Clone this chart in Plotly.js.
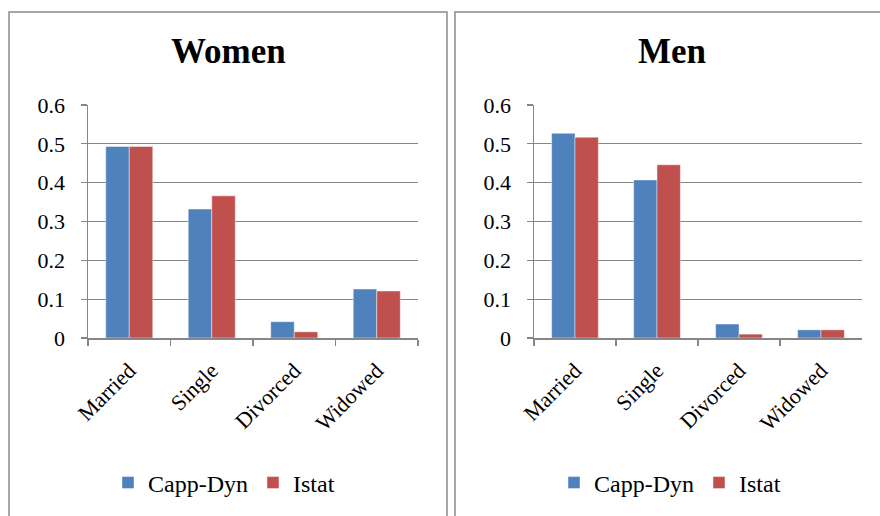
<!DOCTYPE html>
<html>
<head>
<meta charset="utf-8">
<script src="https://cdn.plot.ly/plotly-3.0.1.min.js"></script>
<style>html,body{margin:0;padding:0;background:#fff;}#chart{width:880px;height:516px;}</style>
</head>
<body>
<div id="chart"></div>
<script>
const categories = ['Married', 'Single', 'Divorced', 'Widowed'];
const seriesNames = ['Capp-Dyn', 'Istat'];
const panelTitles = ['Women', 'Men'];
const womenCappDyn = [0.493, 0.332, 0.042, 0.126];
const womenIstat = [0.493, 0.366, 0.016, 0.121];
const menCappDyn = [0.527, 0.407, 0.036, 0.021];
const menIstat = [0.517, 0.446, 0.010, 0.021];
const yTickVals = [0, 0.1, 0.2, 0.3, 0.4, 0.5, 0.6];
const yTickText = ['0', '0.1', '0.2', '0.3', '0.4', '0.5', '0.6'];

const W = 880, H = 516;
const BLUE = '#4F81BD', RED = '#C0504D', GRID = '#868686';
const SERIF = 'Liberation Serif';

function bar(name, y, color, xa, ya, leg) {
  return {
    type: 'bar', name: name, x: categories, y: y, xaxis: xa, yaxis: ya, legend: leg,
    marker: {color: color, line: {color: 'rgba(255,255,255,0.55)', width: 0.8}},
    hoverinfo: 'skip'
  };
}

const data = [
  bar(seriesNames[0], womenCappDyn, BLUE, 'x', 'y', 'legend'),
  bar(seriesNames[1], womenIstat, RED, 'x', 'y', 'legend'),
  bar(seriesNames[0], menCappDyn, BLUE, 'x2', 'y2', 'legend2'),
  bar(seriesNames[1], menIstat, RED, 'x2', 'y2', 'legend2')
];

const yDomain = [1 - 338 / H, 1 - 105 / H];
function xAxis(domain, anchor) {
  return {
    domain: domain, anchor: anchor, type: 'category',
    showline: true, linecolor: GRID, linewidth: 2,
    ticks: 'outside', tickson: 'boundaries', ticklen: 6, tickcolor: GRID, tickwidth: 1.5,
    tickangle: -45, tickfont: {family: SERIF, size: 22, color: '#000'},
    ticklabelstandoff: 9,
    showgrid: false, zeroline: false, fixedrange: true
  };
}
function yAxis(anchor) {
  return {
    domain: yDomain, anchor: anchor, range: [0, 0.6],
    tickvals: yTickVals, ticktext: yTickText,
    showline: true, linecolor: GRID, linewidth: 1.5,
    ticks: 'outside', ticklen: 6, tickcolor: GRID, tickwidth: 1.3,
    showgrid: true, gridcolor: GRID, gridwidth: 1.3,
    zeroline: false,
    tickfont: {family: SERIF, size: 22, color: '#000'},
    ticklabelstandoff: 11, fixedrange: true
  };
}

const legendBase = {
  orientation: 'h', xanchor: 'left', yanchor: 'middle',
  font: {family: SERIF, size: 24, color: '#000'},
  bgcolor: 'rgba(0,0,0,0)', itemwidth: 30, tracegroupgap: 0
};

const layout = {
  width: W, height: H,
  margin: {l: 0, r: 0, t: 0, b: 0},
  paper_bgcolor: '#fff', plot_bgcolor: '#fff',
  font: {family: SERIF},
  barmode: 'group', bargap: 0.43, bargroupgap: 0,
  showlegend: true,
  xaxis: xAxis([88 / W, 418 / W], 'y'),
  yaxis: yAxis('x'),
  xaxis2: xAxis([534 / W, 862 / W], 'y2'),
  yaxis2: yAxis('x2'),
  legend: Object.assign({x: 108 / W, y: 1 - 483 / H}, legendBase),
  legend2: Object.assign({x: 554 / W, y: 1 - 483 / H}, legendBase),
  shapes: [
    {type: 'rect', xref: 'paper', yref: 'paper', x0: 9 / W, x1: 447 / W, y0: -0.1, y1: 1 - 12 / H,
     line: {color: '#8a8a8a', width: 1.5}, fillcolor: 'rgba(0,0,0,0)', layer: 'below'},
    {type: 'rect', xref: 'paper', yref: 'paper', x0: 455 / W, x1: 1.05, y0: -0.1, y1: 1 - 12 / H,
     line: {color: '#8a8a8a', width: 1.5}, fillcolor: 'rgba(0,0,0,0)', layer: 'below'}
  ],
  annotations: [
    {text: panelTitles[0], xref: 'paper', yref: 'paper', x: 228 / W, y: 1 - 52 / H,
     xanchor: 'center', yanchor: 'middle', showarrow: false,
     font: {family: SERIF, size: 35, color: '#000', weight: 'bold'}},
    {text: panelTitles[1], xref: 'paper', yref: 'paper', x: 672 / W, y: 1 - 52 / H,
     xanchor: 'center', yanchor: 'middle', showarrow: false,
     font: {family: SERIF, size: 35, color: '#000', weight: 'bold'}}
  ]
};

Plotly.newPlot('chart', data, layout, {staticPlot: true, displayModeBar: false});
</script>
</body>
</html>
